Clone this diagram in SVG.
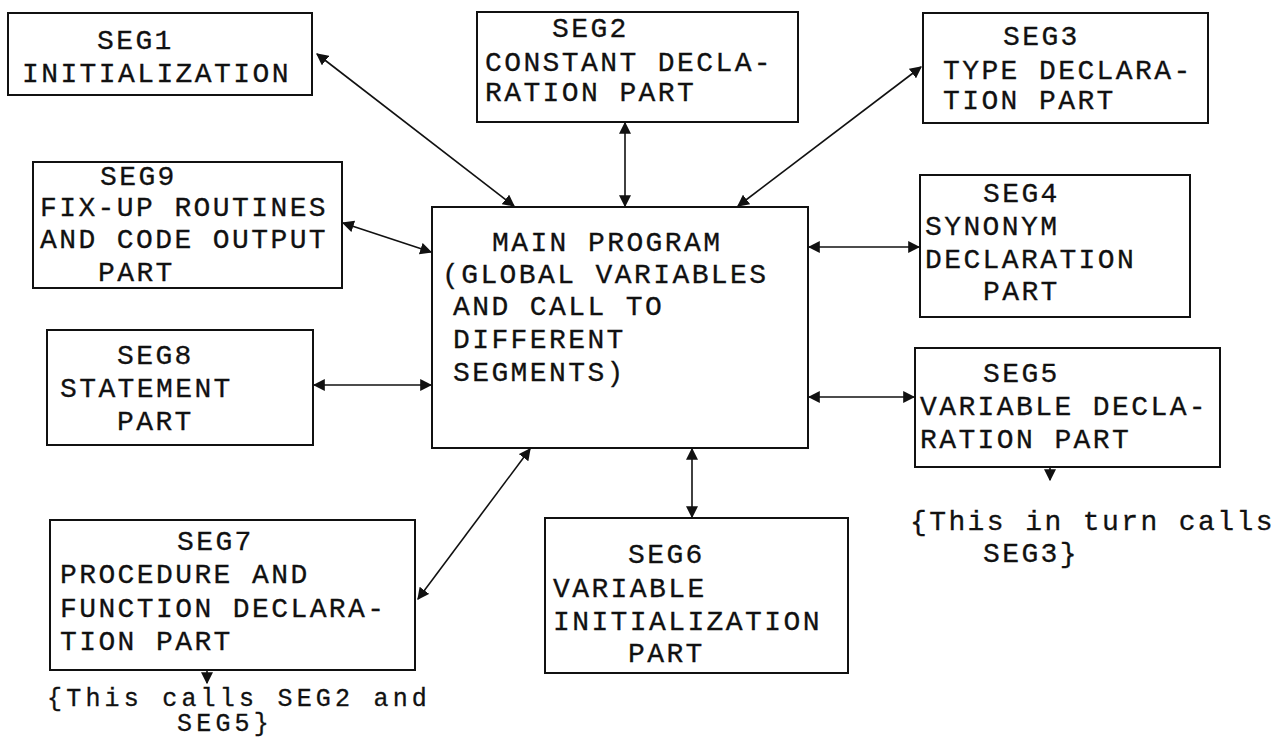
<svg xmlns="http://www.w3.org/2000/svg" width="1280" height="740" viewBox="0 0 1280 740">
<defs>
<marker id="ah" viewBox="0 0 10 10" refX="9" refY="5" markerWidth="12" markerHeight="12" markerUnits="userSpaceOnUse" orient="auto-start-reverse">
<path d="M0,0 L10,5 L0,10 z" fill="#111"/>
</marker>
<style>
.box{fill:#fff;stroke:#111;stroke-width:2}
.t{font-family:"Liberation Mono","Courier New",monospace;font-size:28px;letter-spacing:2.4px;fill:#111;stroke:#111;stroke-width:0.3}
.n{font-size:25px;letter-spacing:4.2px}
.c{fill:none;stroke:#111;stroke-width:1.6}
</style>
</defs>
<rect width="1280" height="740" fill="#fff"/>
<g id="connectors">
<line class="c" x1="317" y1="54" x2="514" y2="206" marker-start="url(#ah)" marker-end="url(#ah)"/>
<line class="c" x1="625" y1="123" x2="625" y2="206" marker-start="url(#ah)" marker-end="url(#ah)"/>
<line class="c" x1="921" y1="67" x2="738" y2="206" marker-start="url(#ah)" marker-end="url(#ah)"/>
<line class="c" x1="343" y1="223" x2="431" y2="252" marker-start="url(#ah)" marker-end="url(#ah)"/>
<line class="c" x1="809" y1="247" x2="919" y2="247" marker-start="url(#ah)" marker-end="url(#ah)"/>
<line class="c" x1="314" y1="385" x2="431" y2="385" marker-start="url(#ah)" marker-end="url(#ah)"/>
<line class="c" x1="809" y1="397" x2="914" y2="397" marker-start="url(#ah)" marker-end="url(#ah)"/>
<line class="c" x1="530" y1="449" x2="418" y2="599" marker-start="url(#ah)" marker-end="url(#ah)"/>
<line class="c" x1="692" y1="449" x2="692" y2="517" marker-start="url(#ah)" marker-end="url(#ah)"/>
<line class="c" x1="1050" y1="468" x2="1050" y2="480" marker-end="url(#ah)"/>
<line class="c" x1="207" y1="671" x2="207" y2="683" marker-end="url(#ah)"/>
</g>
<g id="seg1">
<rect class="box" x="8" y="13" width="304" height="82"/>
<text class="t" x="97" y="49">SEG1</text>
<text class="t" x="22" y="82">INITIALIZATION</text>
</g>
<g id="seg2">
<rect class="box" x="477" y="12" width="321" height="110"/>
<text class="t" x="552" y="37">SEG2</text>
<text class="t" x="485" y="71">CONSTANT DECLA-</text>
<text class="t" x="485" y="101">RATION PART</text>
</g>
<g id="seg3">
<rect class="box" x="923" y="13" width="285" height="110"/>
<text class="t" x="1003" y="45">SEG3</text>
<text class="t" x="943" y="79">TYPE DECLARA-</text>
<text class="t" x="943" y="109">TION PART</text>
</g>
<g id="seg9">
<rect class="box" x="33" y="162" width="309" height="126"/>
<text class="t" x="100" y="185">SEG9</text>
<text class="t" x="40" y="216">FIX-UP ROUTINES</text>
<text class="t" x="40" y="248">AND CODE OUTPUT</text>
<text class="t" x="98" y="281">PART</text>
</g>
<g id="main">
<rect class="box" x="432" y="207" width="376" height="241"/>
<text class="t" x="492" y="251">MAIN PROGRAM</text>
<text class="t" x="442" y="283">(GLOBAL VARIABLES</text>
<text class="t" x="453" y="315">AND CALL TO</text>
<text class="t" x="453" y="348">DIFFERENT</text>
<text class="t" x="453" y="381">SEGMENTS)</text>
</g>
<g id="seg4">
<rect class="box" x="920" y="175" width="270" height="142"/>
<text class="t" x="983" y="202">SEG4</text>
<text class="t" x="925" y="235">SYNONYM</text>
<text class="t" x="925" y="268">DECLARATION</text>
<text class="t" x="983" y="300">PART</text>
</g>
<g id="seg8">
<rect class="box" x="47" y="330" width="266" height="115"/>
<text class="t" x="117" y="364">SEG8</text>
<text class="t" x="60" y="397">STATEMENT</text>
<text class="t" x="117" y="430">PART</text>
</g>
<g id="seg5">
<rect class="box" x="915" y="348" width="305" height="119"/>
<text class="t" x="983" y="382">SEG5</text>
<text class="t" x="920" y="415">VARIABLE DECLA-</text>
<text class="t" x="920" y="448">RATION PART</text>
</g>
<g id="note5">
<text class="t" x="910" y="530">{This in turn calls</text>
<text class="t" x="983" y="562">SEG3}</text>
</g>
<g id="seg7">
<rect class="box" x="50" y="520" width="365" height="150"/>
<text class="t" x="177" y="550">SEG7</text>
<text class="t" x="60" y="583">PROCEDURE AND</text>
<text class="t" x="60" y="617">FUNCTION DECLARA-</text>
<text class="t" x="60" y="650">TION PART</text>
</g>
<g id="seg6">
<rect class="box" x="545" y="518" width="303" height="155"/>
<text class="t" x="628" y="563">SEG6</text>
<text class="t" x="553" y="597">VARIABLE</text>
<text class="t" x="553" y="630">INITIALIZATION</text>
<text class="t" x="628" y="662">PART</text>
</g>
<g id="note7">
<text class="t n" x="47" y="706">{This calls SEG2 and</text>
<text class="t n" x="177" y="731">SEG5}</text>
</g>
</svg>
